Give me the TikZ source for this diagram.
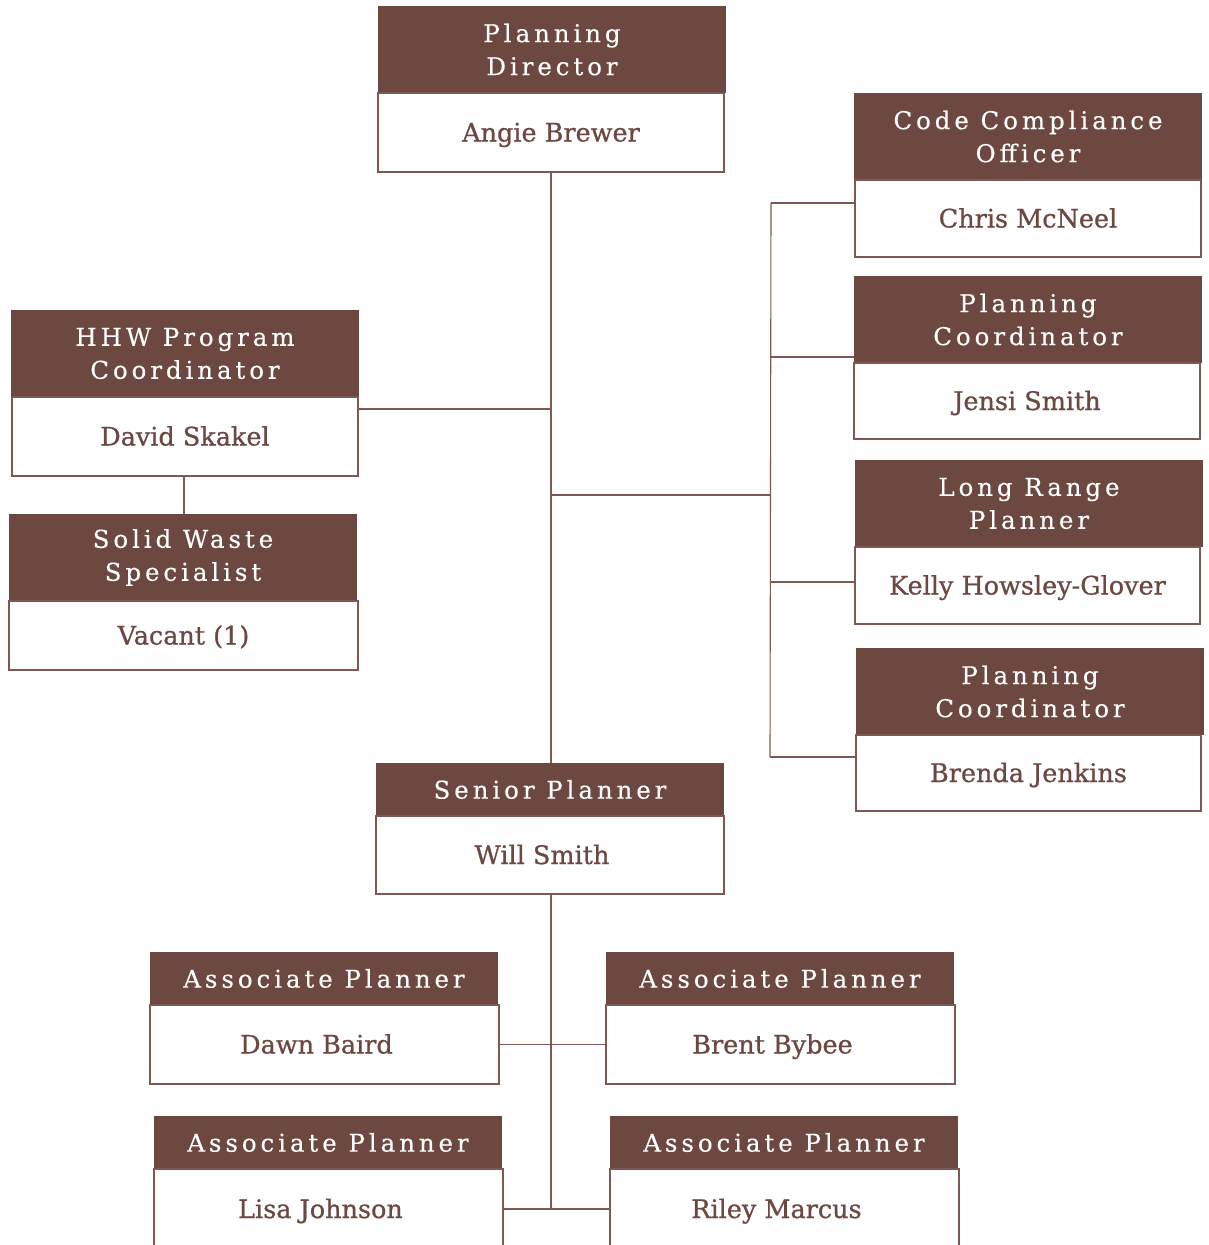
\documentclass[tikz,border=0pt]{standalone}
\usepackage{fontspec}
\setmainfont{DejaVu Serif}
\newfontfamily\titlefont[LetterSpace=16,FakeBold=0.3]{DejaVu Serif}
\newfontfamily\namefont[FakeBold=0.8]{DejaVu Serif}
\definecolor{bark}{HTML}{6D4841}
\definecolor{barkline}{HTML}{7E5852}
\begin{document}
\begin{tikzpicture}[x=1pt,y=-1pt,
  header/.style={fill=bark, draw=none, anchor=north west, outer sep=0pt, inner sep=0pt,
    text=white, align=center,
    font=\titlefont\fontsize{24.5}{33}\selectfont},
  body/.style={draw=barkline, line width=1.1pt, fill=white, anchor=north west, outer sep=0pt, inner sep=0pt,
    text=bark, text height=18pt, text depth=0pt,
    font=\namefont\fontsize{25.5}{30}\selectfont},
  leftname/.style={execute at begin node=\kern-16pt},
  link/.style={draw=barkline, line width=1.1pt}]
\useasboundingbox (0,0) rectangle (1208,1245);
\clip (0,0) rectangle (1208,1245);

% junction points of the connector tree
\coordinate (hhwJ) at (551,409);
\coordinate (rightJ) at (551,495);
\coordinate (busTop) at (771,203);
\coordinate (busMid) at (771,495);
\coordinate (busBot) at (770,757);
\coordinate (lowEnd) at (551,1209);

% Planning Director
\node[header, minimum width=348, minimum height=87] (pdH) at (378,6) {Planning\\Director};
\node[body, minimum width=346, minimum height=79] (pdB) at (378,93) {Angie Brewer};

% right column
\node[header, minimum width=348, minimum height=87] (ccH) at (854,93) {Code Compliance\\Officer};
\node[body, minimum width=346, minimum height=77] (ccB) at (855,180) {Chris McNeel};

\node[header, minimum width=348, minimum height=87] (pc1H) at (854,276) {Planning\\Coordinator};
\node[body, minimum width=346, minimum height=76] (pc1B) at (854,363) {Jensi Smith};

\node[header, minimum width=348, minimum height=87] (lrH) at (855,460) {Long Range\\Planner};
\node[body, minimum width=345, minimum height=77] (lrB) at (855,547) {Kelly Howsley-Glover};

\node[header, minimum width=348, minimum height=87] (pc2H) at (856,648) {Planning\\Coordinator};
\node[body, minimum width=345, minimum height=76] (pc2B) at (856,735) {Brenda Jenkins};

% left column
\node[header, minimum width=348, minimum height=87] (hhwH) at (11,310) {HHW Program\\Coordinator};
\node[body, minimum width=346, minimum height=79] (hhwB) at (12,397) {David Skakel};

\node[header, minimum width=348, minimum height=87] (swH) at (9,514) {Solid Waste\\Specialist};
\node[body, minimum width=349, minimum height=69] (swB) at (9,601) {Vacant (1)};

% Senior Planner
\node[header, minimum width=348, minimum height=53] (spH) at (376,763) {Senior Planner};
\node[body, leftname, minimum width=348, minimum height=78] (spB) at (376,816) {Will Smith};

% associate planners
\node[header, minimum width=348, minimum height=53] (a1H) at (150,952) {Associate Planner};
\node[body, leftname, minimum width=349, minimum height=79] (a1B) at (150,1005) {Dawn Baird};

\node[header, minimum width=348, minimum height=53] (a2H) at (606,952) {Associate Planner};
\node[body, leftname, minimum width=349, minimum height=79] (a2B) at (606,1005) {Brent Bybee};

\node[header, minimum width=348, minimum height=53] (a3H) at (154,1116) {Associate Planner};
\node[body, leftname, minimum width=349, minimum height=80] (a3B) at (154,1169) {Lisa Johnson};

\node[header, minimum width=348, minimum height=53] (a4H) at (610,1116) {Associate Planner};
\node[body, leftname, minimum width=349, minimum height=80] (a4B) at (610,1169) {Riley Marcus};

% connectors between the boxes
\draw[link] (pdB.south -| rightJ) -- (spH.north -| rightJ);
\draw[link] (hhwB.east |- hhwJ) -- (hhwJ);
\draw[link] (hhwB.south -| 184,0) -- (swH.north -| 184,0);
\draw[link] (rightJ) -- (busMid);
\draw[link] (busTop) -- (busBot);
\draw[link] (busTop) -- (ccB.west |- busTop);
\draw[link] (771,357) coordinate (b2) -- (pc1H.west |- b2);
\draw[link] (771,582) coordinate (b3) -- (lrB.west |- b3);
\draw[link] (busBot) -- (pc2B.west |- busBot);
\draw[link] (spB.south -| lowEnd) -- (lowEnd);
\draw[link] (a1B.east) -- (a2B.west);
\draw[link] (a3B.east) -- (a4B.west);
\end{tikzpicture}
\end{document}
